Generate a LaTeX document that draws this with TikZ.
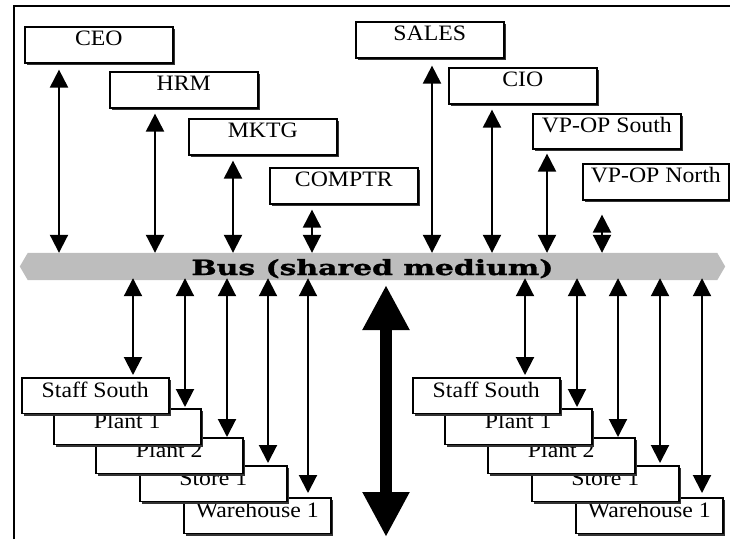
\documentclass[tikz,border=0pt]{standalone}
\usepackage{fontspec}
\usepackage{graphicx}
\setmainfont{Liberation Serif}[FakeStretch=1.08]
\newfontfamily\busfont{DejaVu Serif}[FakeBold=1.2]
\usetikzlibrary{arrows.meta,shadows,backgrounds}
\begin{document}
\begin{tikzpicture}[x=1pt,y=-1pt,
  unit/.style={draw=black, line width=1.6pt, fill=white, rectangle, anchor=north west,
    minimum width=148pt, inner xsep=0pt, inner ysep=0pt,
    text height=18.5pt, text depth=17.5pt,
    font=\fontsize{22}{22}\selectfont,
    drop shadow={shadow xshift=2.5pt, shadow yshift=-2.5pt, fill=black!80, opacity=1}},
  lowunit/.style={unit, minimum width=147pt, text height=19.5pt, text depth=16pt},
  link/.style={line width=2pt,
    {Triangle[width=18pt,length=18pt]}-{Triangle[width=18pt,length=18pt]}},
  bigarrow/.style={line width=12pt,
    {Triangle[width=44pt,length=45pt]}-{Triangle[width=44pt,length=45pt]}},
  busband/.style={rectangle, minimum width=689pt, minimum height=27pt,
    inner sep=0pt, text height=22pt, text depth=5pt},
  busfill/.style={fill=black!26}
]
\useasboundingbox (0,0) rectangle (730,539);

% frame (left and top edges)
\draw[line width=2pt] (14,539) -- (14,6) -- (730,6);

% shared bus
\node[busband] (bus) at (372.5,266.5)
  {\resizebox{362pt}{\height}{\busfont\bfseries\fontsize{21}{21}\selectfont Bus (shared medium)}};
\begin{scope}[on background layer]
  \fill[busfill] (bus.north west) -- ([xshift=-8pt]bus.west) -- (bus.south west)
    -- (bus.south east) -- ([xshift=8pt]bus.east) -- (bus.north east) -- cycle;
\end{scope}

% headquarters units
\node[unit] (ceo)    at (24,26)   {CEO};
\node[unit] (hrm)    at (109,71)  {HRM};
\node[unit] (mktg)   at (188,118) {MKTG};
\node[unit] (comptr) at (269,167) {COMPTR};
\node[unit] (sales)  at (355,21)  {SALES};
\node[unit] (cio)    at (448,67)  {CIO};
\node[unit, text depth=16.5pt] (vps) at (532,113) {VP-OP South};
\node[unit, minimum width=146pt] (vpn) at (582,163) {VP-OP North};

% links from headquarters to the bus
\draw[link] ([shift={(35,6)}]ceo.south west)    -- ([xshift=35pt]ceo.south west |- bus.north);
\draw[link] ([shift={(46,5)}]hrm.south west)    -- ([xshift=46pt]hrm.south west |- bus.north);
\draw[link] ([shift={(45,5)}]mktg.south west)   -- ([xshift=45pt]mktg.south west |- bus.north);
\draw[link] ([shift={(43,5)}]comptr.south west) -- ([xshift=43pt]comptr.south west |- bus.north);
\draw[link] ([shift={(77,7)}]sales.south west)  -- ([xshift=77pt]sales.south west |- bus.north);
\draw[link] ([shift={(44,5)}]cio.south west)    -- ([xshift=44pt]cio.south west |- bus.north);
\draw[link] ([shift={(15,4)}]vps.south west)    -- ([xshift=15pt]vps.south west |- bus.north);
\draw[link] ([shift={(20,14)}]vpn.south west)   -- ([xshift=20pt]vpn.south west |- bus.north);

% southern site, left group (lower boxes first)
\node[lowunit] (wa) at (183,497) {Warehouse 1};
\node[lowunit] (sa) at (139,465) {Store 1};
\node[lowunit] (pb) at (95,437)  {Plant 2};
\node[lowunit] (pa) at (53,408)  {Plant 1};
\node[lowunit] (sf) at (21,377)  {Staff South};

% southern site, right group
\node[lowunit] (wb) at (575,497) {Warehouse 1};
\node[lowunit] (sb) at (531,465) {Store 1};
\node[lowunit] (pd) at (487,437) {Plant 2};
\node[lowunit] (pc) at (444,408) {Plant 1};
\node[lowunit] (sg) at (412,377) {Staff South};

% links from the bus to the sites
\draw[link] ([shift={(112,-2)}]sf.north west |- bus.south) -- ([shift={(112,-2)}]sf.north west);
\draw[link] ([shift={(132,-2)}]pa.north west |- bus.south) -- ([shift={(132,-1)}]pa.north west);
\draw[link] ([shift={(132,-2)}]pb.north west |- bus.south) -- ([shift={(132,0)}]pb.north west);
\draw[link] ([shift={(129,-2)}]sa.north west |- bus.south) -- ([shift={(129,-2)}]sa.north west);
\draw[link] ([shift={(125,-2)}]wa.north west |- bus.south) -- ([shift={(125,-4)}]wa.north west);

\draw[link] ([shift={(113,-2)}]sg.north west |- bus.south) -- ([shift={(113,-2)}]sg.north west);
\draw[link] ([shift={(133,-2)}]pc.north west |- bus.south) -- ([shift={(133,-1)}]pc.north west);
\draw[link] ([shift={(131,-2)}]pd.north west |- bus.south) -- ([shift={(131,0)}]pd.north west);
\draw[link] ([shift={(129,-2)}]sb.north west |- bus.south) -- ([shift={(129,-2)}]sb.north west);
\draw[link] ([shift={(127,-2)}]wb.north west |- bus.south) -- ([shift={(127,-4)}]wb.north west);

% big two-way arrow between the sites
\coordinate (bigtop) at (386,285);
\coordinate (bigbot) at (386,537);
\draw[bigarrow] (bigtop) -- (bigbot);
\end{tikzpicture}
\end{document}
